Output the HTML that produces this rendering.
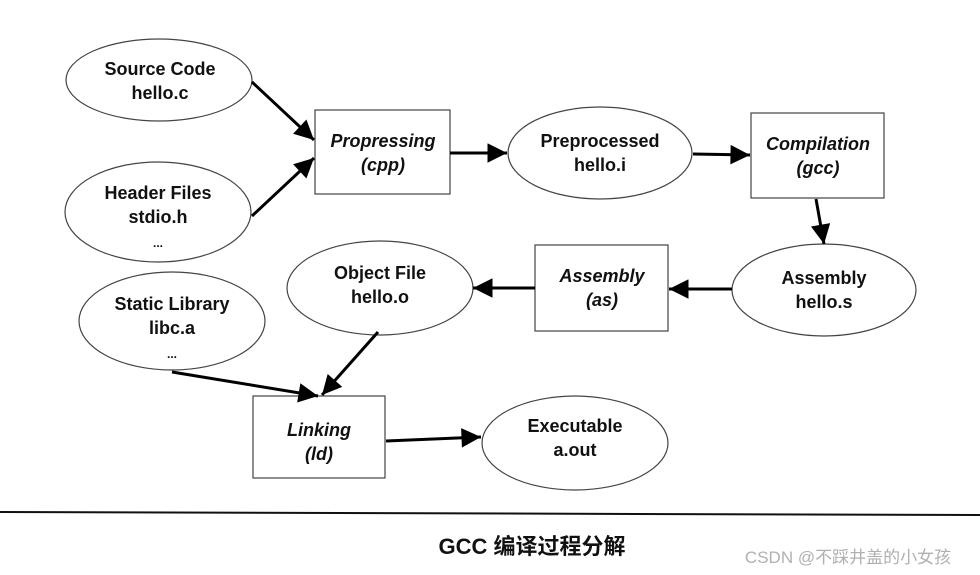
<!DOCTYPE html>
<html><head><meta charset="utf-8"><style>
html,body{margin:0;padding:0;background:#fff;width:980px;height:575px;overflow:hidden}
svg text{font-family:"Liberation Sans",Arial,sans-serif;font-weight:bold;font-size:18px;fill:#111;text-anchor:middle}
</style></head><body>
<svg width="980" height="575" viewBox="0 0 980 575" xmlns="http://www.w3.org/2000/svg">
<defs>
<marker id="a" viewBox="0 0 10 10" refX="10" refY="5" markerWidth="8.5" markerHeight="6.5" markerUnits="strokeWidth" orient="auto">
<path d="M0,0 L10,5 L0,10 z" fill="#000"/></marker>
</defs>
<g fill="#fff" stroke="#444" stroke-width="1.2">
<ellipse cx="159" cy="80" rx="93" ry="41"/>
<ellipse cx="158" cy="212" rx="93" ry="50"/>
<ellipse cx="600" cy="153" rx="92" ry="46"/>
<ellipse cx="824" cy="290" rx="92" ry="46"/>
<ellipse cx="380" cy="288" rx="93" ry="47"/>
<ellipse cx="172" cy="321" rx="93" ry="49"/>
<ellipse cx="575" cy="443" rx="93" ry="47"/>
<rect x="315" y="110" width="135" height="84"/>
<rect x="751" y="113" width="133" height="85"/>
<rect x="535" y="245" width="133" height="86"/>
<rect x="253" y="396" width="132" height="82"/>
</g>
<g stroke="#000" stroke-width="3" fill="none" marker-end="url(#a)">
<line x1="252" y1="82" x2="314" y2="140"/>
<line x1="252" y1="216" x2="314" y2="158"/>
<line x1="450" y1="153" x2="507" y2="153"/>
<line x1="693" y1="154" x2="750" y2="155"/>
<line x1="816" y1="199" x2="824" y2="244"/>
<line x1="732" y1="289" x2="669" y2="289"/>
<line x1="535" y1="288" x2="473" y2="288"/>
<line x1="378" y1="332" x2="322" y2="395"/>
<line x1="172" y1="372" x2="318" y2="396"/>
<line x1="386" y1="441" x2="481" y2="437"/>
</g>
<text x="160" y="75">Source Code</text><text x="160" y="99">hello.c</text>
<text x="158" y="199">Header Files</text><text x="158" y="223">stdio.h</text><text x="158" y="247" style="font-size:12px">...</text>
<text x="383" y="147" font-style="italic">Propressing</text><text x="383" y="171" font-style="italic">(cpp)</text>
<text x="600" y="147">Preprocessed</text><text x="600" y="171">hello.i</text>
<text x="818" y="150" font-style="italic">Compilation</text><text x="818" y="174" font-style="italic">(gcc)</text>
<text x="824" y="284">Assembly</text><text x="824" y="308">hello.s</text>
<text x="602" y="282" font-style="italic">Assembly</text><text x="602" y="306" font-style="italic">(as)</text>
<text x="380" y="279">Object File</text><text x="380" y="303">hello.o</text>
<text x="172" y="310">Static Library</text><text x="172" y="334">libc.a</text><text x="172" y="358" style="font-size:12px">...</text>
<text x="319" y="436" font-style="italic">Linking</text><text x="319" y="460" font-style="italic">(ld)</text>
<text x="575" y="432">Executable</text><text x="575" y="456">a.out</text>
<line x1="0" y1="512" x2="980" y2="515" stroke="#111" stroke-width="2"/>
<text x="532" y="554" style="font-family:'Liberation Sans','Noto Sans CJK SC',sans-serif;font-size:22px;font-weight:bold">GCC 编译过程分解</text>
<text x="848" y="563" style="font-family:'Liberation Sans','Noto Sans CJK SC',sans-serif;font-size:17px;font-weight:normal;fill:#b0b0b0">CSDN @不踩井盖的小女孩</text>
</svg>
</body></html>
